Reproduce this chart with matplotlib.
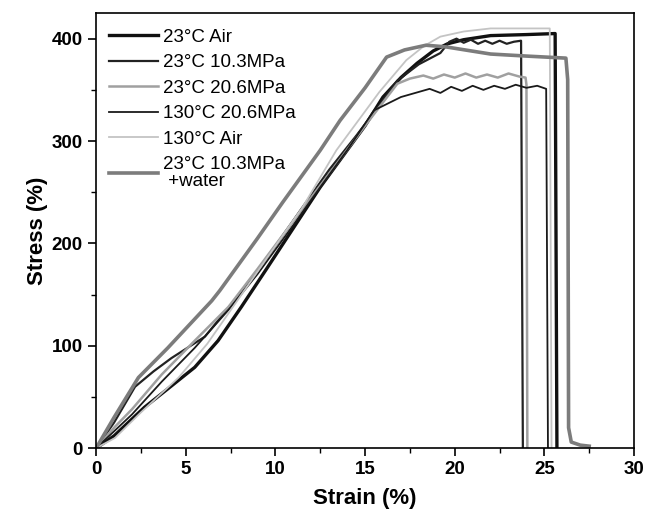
import numpy as np
import matplotlib.pyplot as plt
from matplotlib.ticker import MultipleLocator

# Datos (strain %, stress %)

air23_x = [0, 1, 2.7, 4, 5.5, 6.8, 8.1, 9.5, 11, 12.5, 14, 15, 16, 17, 17.9, 18.8, 19.6,
           20.5, 22, 24, 25.6, 25.7]
air23_y = [0, 12, 40, 58, 79, 105, 138, 175, 215, 255, 291, 315, 343, 362, 376, 388, 395,
           399, 403, 404, 405, 0]

p103_x = [0, 1, 2.17, 3.2, 4.2, 6.07, 7.75, 9.5, 11.5, 13, 14.5, 15.8, 16.8, 18, 19.2,
          19.7, 20.1, 20.5, 20.9, 21.3, 21.7, 22.1, 22.5, 22.9, 23.3, 23.7, 23.8]
p103_y = [0, 25, 60, 75, 88, 109, 145, 185, 235, 272, 305, 335, 359, 375, 386,
          397, 400, 396, 399, 395, 398, 395, 398, 395, 397, 398, 0]

p206_x = [0, 1, 2, 3.66, 5.5, 7.38, 9, 11, 13, 15, 16.8, 17.5, 18.25, 18.8, 19.4, 20,
          20.6, 21.2, 21.8, 22.4, 23, 23.6, 23.95, 24.0, 24.05]
p206_y = [0, 20, 38, 72, 105, 138, 175, 222, 268, 315, 356, 361, 364, 361, 365, 362,
          366, 362, 365, 362, 366, 363, 362, 355, 0]

hot206_x = [0, 2, 3.66, 5.5, 7.38, 9, 11, 12.5, 14, 15.5, 17, 18.6, 19.2, 19.8, 20.4,
            21, 21.6, 22.2, 22.8, 23.4, 24, 24.6, 25.1, 25.2]
hot206_y = [0, 33, 65, 98, 135, 170, 218, 255, 291, 330, 343, 351, 347, 353, 349,
            354, 350, 354, 351, 355, 352, 354, 351, 0]

hotair_x = [0, 1.05, 2.5, 4.6, 6.2, 7.75, 9.5, 11.5, 13.4, 14.2, 15.8, 17.3, 18.3, 19.2,
            20.5, 22, 25.3, 25.4]
hotair_y = [0, 10, 35, 69, 102, 141, 185, 235, 291, 310, 348, 379, 393, 402,
            407, 410, 410, 0]

water_x = [0, 1, 2.36, 4, 6.45, 6.9, 9, 10.4, 12.5, 13.6, 15, 16.2, 17.2, 18.4, 19.5, 22,
           24, 26.2, 26.3, 26.35, 26.5, 27, 27.5]
water_y = [0, 30, 69, 98, 144, 154, 205, 240, 291, 320, 352, 382, 389, 393.6, 392, 385,
           383, 381, 360, 20, 6, 3, 2]

labels = ['23°C Air', '23°C 10.3MPa', '23°C 20.6MPa', '130°C 20.6MPa', '130°C Air',
          '23°C 10.3MPa\n +water']


def main():
    plt.rcParams['font.family'] = ['Liberation Sans', 'DejaVu Sans']

    fig = plt.figure(figsize=(6.45, 5.23), dpi=100)
    ax = fig.add_axes([0.149, 0.143, 0.834, 0.832])

    ax.plot(air23_x, air23_y, color='#111111', lw=2.4, label=labels[0])
    ax.plot(p103_x, p103_y, color='#222222', lw=1.6, label=labels[1])
    ax.plot(p206_x, p206_y, color='#a0a0a0', lw=1.8, label=labels[2])
    ax.plot(hot206_x, hot206_y, color='#1a1a1a', lw=1.3, label=labels[3])
    ax.plot(hotair_x, hotair_y, color='#c4c4c4', lw=1.3, label=labels[4])
    ax.plot(water_x, water_y, color='#7c7c7c', lw=2.6, label=labels[5])

    ax.set_xlim(0, 30)
    ax.set_ylim(0, 425)
    ax.xaxis.set_major_locator(MultipleLocator(5))
    ax.xaxis.set_minor_locator(MultipleLocator(2.5))
    ax.yaxis.set_major_locator(MultipleLocator(100))
    ax.yaxis.set_minor_locator(MultipleLocator(50))
    ax.tick_params(which='major', direction='out', length=6, width=1.2)
    ax.tick_params(which='minor', direction='out', length=3.5, width=1.0)
    ax.tick_params(labelsize=13.5)
    for lab in ax.get_xticklabels() + ax.get_yticklabels():
        lab.set_fontweight('bold')
    for sp in ax.spines.values():
        sp.set_linewidth(1.2)

    ax.set_xlabel('Strain (%)', fontsize=16, fontweight='bold', labelpad=7)
    ax.set_ylabel('Stress (%)', fontsize=16, fontweight='bold', labelpad=3)

    leg = ax.legend(loc='upper left', frameon=False, fontsize=13.5, handlelength=2.6,
                    handletextpad=0.25, labelspacing=0.45, borderaxespad=0.3,
                    bbox_to_anchor=(0.0, 0.995))
    leg.get_texts()[5].set_linespacing(0.95)

    fig.savefig('out.png', dpi=100)


if __name__ == "__main__":
    main()
